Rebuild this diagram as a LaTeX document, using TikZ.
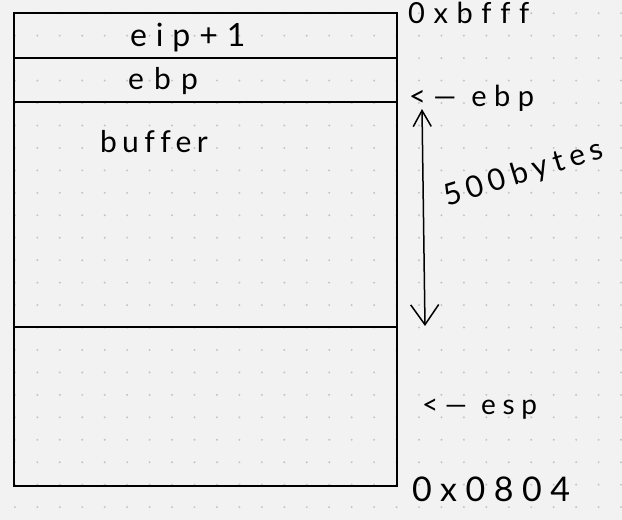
\documentclass[tikz,border=0pt]{standalone}
\usepackage{fontspec}
\setmainfont{Lato}[Ligatures=NoCommon]
\usetikzlibrary{arrows.meta}
\definecolor{paper}{HTML}{F2F2F2}
\definecolor{griddot}{HTML}{C4C4C4}
\newcommand\hw[2]{\fontsize{#1}{#1}\selectfont\addfontfeatures{LetterSpace=#2}}
\tikzset{
  cell/.style={draw=black, line width=2.2pt, minimum width=383pt, inner sep=0pt, outer sep=0pt, anchor=north west},
  hand/.style={inner sep=0pt, outer sep=0pt, anchor=base west, text=black},
  span/.style={line width=1.5pt, black, {Straight Barb[length=16pt,width=18pt]}-{Straight Barb[length=20pt,width=28pt]}},
}
\begin{document}
\begin{tikzpicture}[x=1pt,y=-1pt]
\useasboundingbox[fill=paper] (0,0) rectangle (622,520);
\foreach \i in {0,...,27}
  \foreach \j in {0,...,22}
    \fill[griddot] (14.9+22.45*\i, 13.2+22.45*\j) circle (1.1pt);
% stack cells
\node[cell, minimum height=45pt]  (eipbox) at (14,13)  {};
\node[cell, minimum height=44pt]  (ebpbox) at (14,58)  {};
\node[cell, minimum height=225pt] (bufbox) at (14,102) {};
\node[cell, minimum height=159pt] (lowbox) at (14,327) {};
% labels in cells
\node[hand] (eiplbl) at (130,46.7) {\hw{32}{28}eip+1};
\node[hand] (ebplbl) at (128,89) {\hw{30}{34}ebp};
\node[hand] (buflbl) at (100,152) {\hw{30}{18}buffer};
% right-side annotations
\node[hand] (topaddr) at (408,23) {\hw{29}{30}0xbfff};
\node[hand] (ebpptr) at (409,106) {\hw{29}{26}<— ebp};
\node[hand] (espptr) at (422,414) {\hw{28}{24}<— esp};
\node[hand] (botaddr) at (412,501) {\hw{34}{25}0x0804};
\node[hand, rotate=17] (sizelbl) at (447,206) {\hw{30}{20}500bytes};
% span arrow
\coordinate (spantop) at (422,109);
\coordinate (spanbot) at (425,326);
\draw[span] (spantop) -- (spanbot);
\end{tikzpicture}
\end{document}
